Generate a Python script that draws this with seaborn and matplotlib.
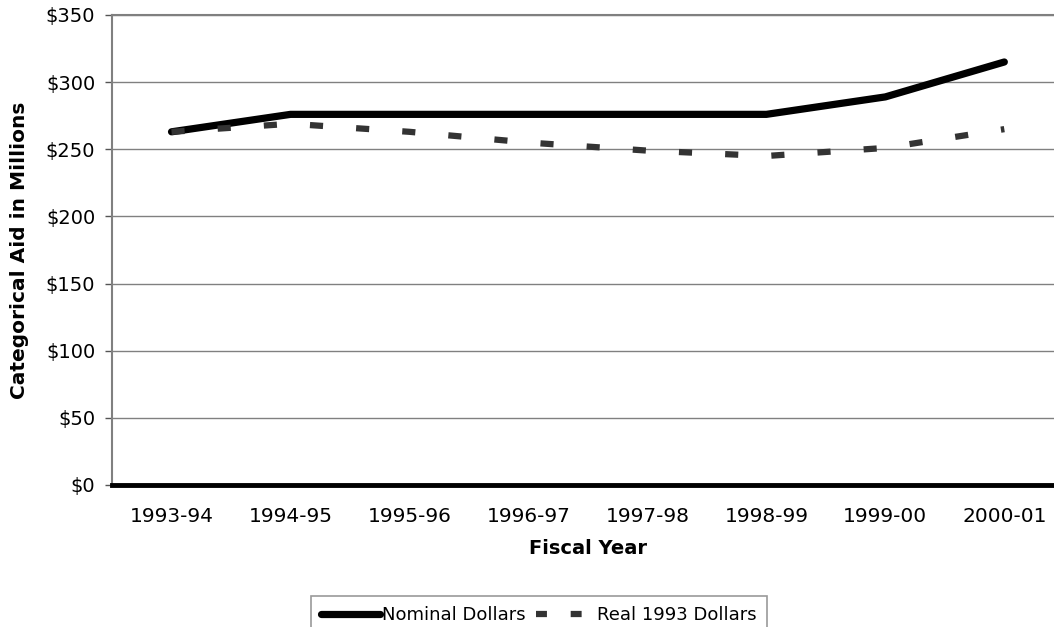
import pandas as pd
import numpy as np
import matplotlib
matplotlib.use("Agg")
import matplotlib.pyplot as plt
import seaborn as sns

# values (millions of dollars)
years = ["1993-94", "1994-95", "1995-96", "1996-97", "1997-98", "1998-99", "1999-00", "2000-01"]
nominal = [263, 276, 276, 276, 276, 276, 289, 315]
real_1993 = [263, 269, 263, 255, 249, 245, 251, 265]

df = pd.DataFrame({
    "pos": list(range(len(years))) * 2,
    "value": nominal + real_1993,
    "series": ["Nominal Dollars"] * len(years) + ["Real 1993 Dollars"] * len(years),
})

sns.set_style("white")
plt.rcParams["font.family"] = ["DejaVu Sans"]
plt.rcParams["text.color"] = "black"
plt.rcParams["axes.labelcolor"] = "black"
plt.rcParams["xtick.color"] = "black"
plt.rcParams["ytick.color"] = "black"

fig = plt.figure(figsize=(10.54, 6.27), dpi=100)
ax = fig.add_axes([0.1063, 0.2265, 0.903, 0.7496])

for y in range(50, 351, 50):
    ax.axhline(y, color="#808080", lw=1.0, zorder=0)

sns.lineplot(data=df[df.series == "Nominal Dollars"], x="pos", y="value", ax=ax,
             color="black", lw=5.2, label="Nominal Dollars", solid_capstyle="round")
sns.lineplot(data=df[df.series == "Real 1993 Dollars"], x="pos", y="value", ax=ax,
             color="#333333", lw=4.5, label="Real 1993 Dollars",
             dashes=False, linestyle=(0, (2.1, 5.3)), dash_capstyle="butt")

ax.set_xlim(-0.5, len(years) - 0.5)
ax.set_ylim(0, 350)
ax.set_yticks(range(0, 351, 50))
ax.set_yticklabels(["$" + str(v) for v in range(0, 351, 50)], fontsize=14)
ax.set_xticks(range(len(years)))
ax.set_xticklabels(years, fontsize=14.5)
ax.set_xticks(np.arange(-0.5, len(years), 1), minor=True)
ax.tick_params(axis="x", which="major", length=0, pad=16)
ax.tick_params(axis="x", which="minor", length=6, width=2.5, color="black", direction="out")
ax.tick_params(axis="y", length=5, width=1, color="#555555", direction="out", left=True, pad=7)

for s in ["top", "left", "right"]:
    ax.spines[s].set_color("#808080")
    ax.spines[s].set_linewidth(1.5)
ax.spines["bottom"].set_color("black")
ax.spines["bottom"].set_linewidth(3.5)

ax.set_xlabel("Fiscal Year", fontsize=14, fontweight="bold", labelpad=9)
ax.set_ylabel("Categorical Aid in Millions", fontsize=14.5, fontweight="bold", labelpad=12)

ax.get_legend().remove()
h, l = ax.get_legend_handles_labels()
leg = fig.legend(h, l, loc="upper center", bbox_to_anchor=(0.511, 0.049), ncol=2,
                 fontsize=13, frameon=True, fancybox=False, edgecolor="#808080",
                 handlelength=3.3, handletextpad=0.1, columnspacing=0.55,
                 borderpad=0.55, borderaxespad=0)
leg.get_frame().set_linewidth(1.2)
leg.get_lines()[1].set_linestyle((0, (1.75, 3.8)))

fig.savefig("out.png", dpi=100)
